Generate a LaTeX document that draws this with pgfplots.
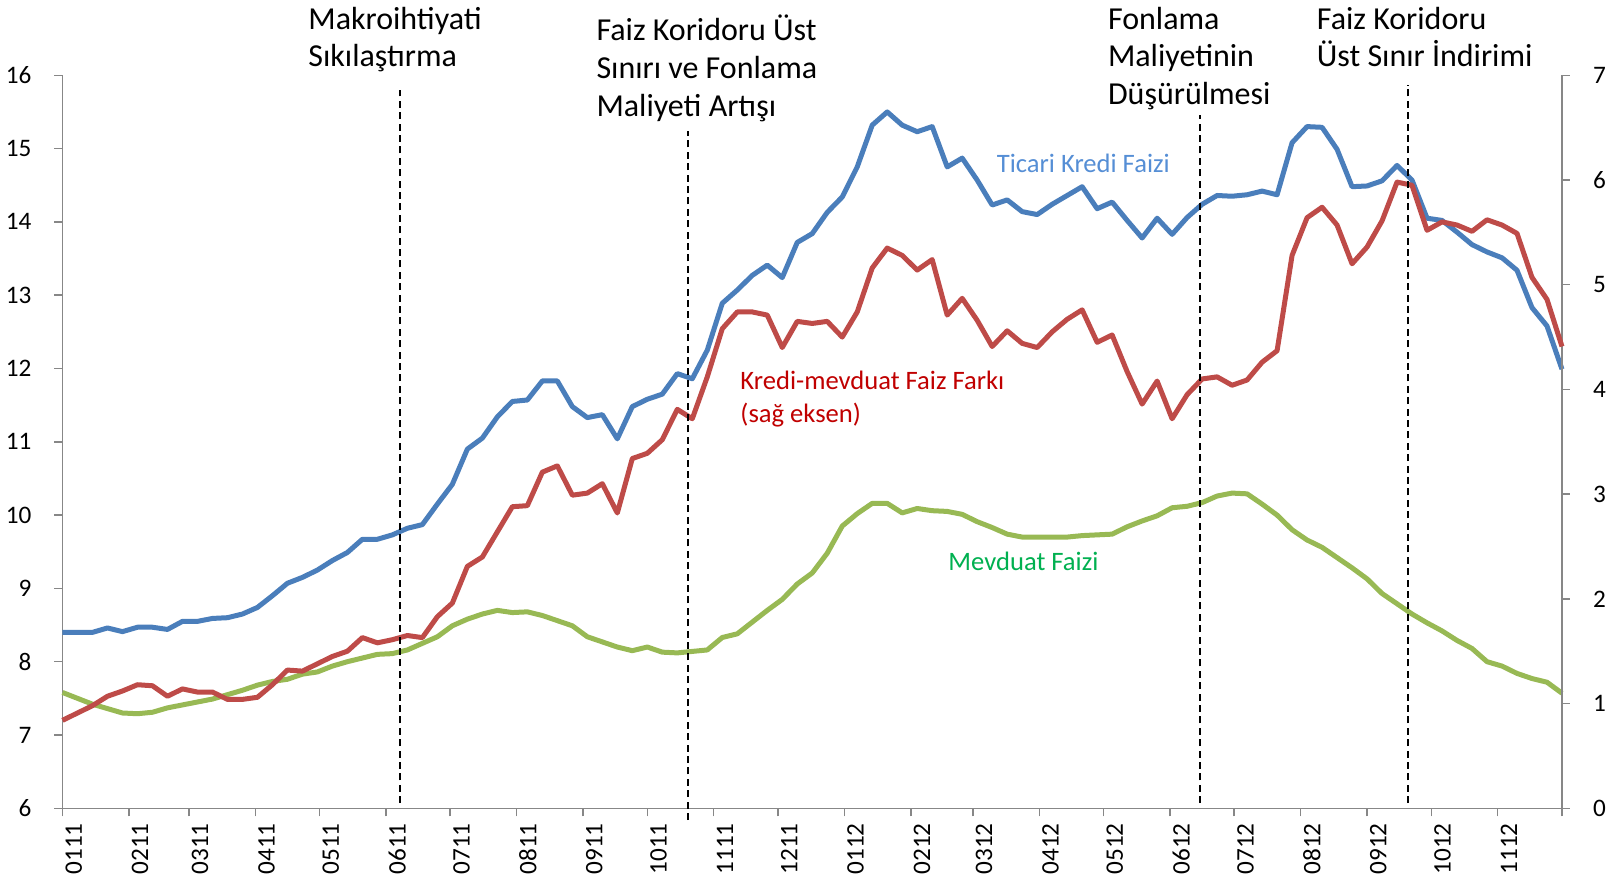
\documentclass[border=0pt]{standalone}
\usepackage{pgfplots}
\pgfplotsset{compat=1.18}
\usepackage{pgfplotstable}
\usepackage{fontspec}
\setmainfont{Carlito}
\definecolor{cblue}{HTML}{4A7EBB}
\definecolor{cred}{HTML}{BE4B48}
\definecolor{cgreen}{HTML}{98B954}
\definecolor{tblue}{HTML}{558ED5}
\definecolor{tred}{HTML}{C00000}
\definecolor{tgreen}{HTML}{00B050}
\definecolor{axgray}{HTML}{878787}
\pgfplotstableread{
d b r g
0 8.40 0.84 7.58
7 8.40 0.91 7.50
14 8.40 0.98 7.42
21 8.46 1.07 7.36
28 8.41 1.12 7.30
35 8.47 1.18 7.29
42 8.47 1.17 7.31
49 8.44 1.07 7.37
56 8.55 1.14 7.41
63 8.55 1.11 7.45
70 8.59 1.11 7.49
77 8.60 1.04 7.55
84 8.65 1.04 7.61
91 8.74 1.06 7.68
98 8.90 1.18 7.73
105 9.07 1.32 7.76
112 9.15 1.31 7.83
119 9.25 1.38 7.86
126 9.38 1.45 7.94
133 9.49 1.50 8.00
140 9.67 1.63 8.05
147 9.67 1.58 8.10
154 9.73 1.61 8.11
161 9.82 1.65 8.16
168 9.87 1.63 8.25
175 10.15 1.83 8.34
182 10.42 1.96 8.49
189 10.90 2.31 8.58
196 11.05 2.40 8.65
203 11.34 2.64 8.70
210 11.55 2.88 8.67
217 11.57 2.89 8.68
224 11.83 3.21 8.63
231 11.83 3.27 8.56
238 11.48 2.99 8.49
245 11.33 3.01 8.34
252 11.37 3.10 8.27
259 11.04 2.82 8.20
266 11.48 3.34 8.15
273 11.58 3.39 8.20
280 11.65 3.52 8.13
287 11.93 3.81 8.12
294 11.86 3.72 8.14
301 12.25 4.12 8.16
308 12.89 4.58 8.33
315 13.07 4.74 8.38
322 13.27 4.74 8.54
329 13.41 4.71 8.70
336 13.24 4.40 8.85
343 13.72 4.65 9.06
350 13.84 4.63 9.21
357 14.13 4.65 9.48
364 14.34 4.50 9.85
371 14.75 4.74 10.02
378 15.32 5.16 10.16
385 15.50 5.35 10.16
392 15.32 5.28 10.03
399 15.23 5.14 10.09
406 15.30 5.24 10.06
413 14.75 4.71 10.05
420 14.87 4.87 10.01
427 14.57 4.66 9.91
434 14.23 4.41 9.83
441 14.30 4.56 9.74
448 14.14 4.44 9.70
455 14.10 4.40 9.70
462 14.24 4.55 9.70
469 14.36 4.67 9.70
476 14.48 4.76 9.72
483 14.18 4.45 9.73
490 14.27 4.52 9.74
497 14.02 4.17 9.84
504 13.78 3.86 9.92
511 14.05 4.08 9.99
518 13.83 3.72 10.10
525 14.06 3.95 10.12
532 14.24 4.10 10.17
539 14.36 4.12 10.26
546 14.35 4.04 10.30
553 14.37 4.09 10.29
560 14.42 4.26 10.15
567 14.37 4.37 10.00
574 15.08 5.28 9.80
581 15.30 5.64 9.66
588 15.29 5.74 9.56
595 14.99 5.57 9.42
602 14.48 5.20 9.28
609 14.49 5.36 9.13
616 14.56 5.61 8.93
623 14.77 5.98 8.79
630 14.57 5.95 8.65
637 14.05 5.52 8.53
644 14.02 5.60 8.42
651 13.86 5.57 8.29
658 13.69 5.51 8.18
665 13.59 5.62 8.00
672 13.51 5.57 7.94
679 13.34 5.49 7.84
686 12.83 5.07 7.77
693 12.58 4.86 7.72
700 11.99 4.41 7.57
}\data
\begin{document}
\begin{tikzpicture}
\pgfplotsset{common/.style={
  width=749.75pt, height=366.5pt, scale only axis,
  xmin=0, xmax=700, clip=false,
  tick align=outside, major tick length=4pt,
  tick style={draw=axgray, line width=0.75pt},
  axis line style={draw=axgray, line width=0.75pt, -},
  tick label style={font=\fontsize{12.6}{14}\selectfont},
  /pgf/number format/assume math mode=true,
  every axis plot/.append style={line width=2.5pt, line join=round, mark=none}
}}
\begin{axis}[common, name=main,
  axis x line*=bottom, axis y line*=left,
  ymin=6, ymax=16, ytick={6,7,...,16},
  xtick={0,31,59,90,120,151,181,212,243,273,304,334,365,396,425,456,486,517,547,578,609,639,670,700},
  xticklabels={0111,0211,0311,0411,0511,0611,0711,0811,0911,1011,1111,1211,0112,0212,0312,0412,0512,0612,0712,0812,0912,1012,1112,{}},
  xticklabel style={rotate=90, anchor=east, yshift=-5.6pt},
  yticklabel style={xshift=-8pt}]
\addplot[cblue] table[x=d,y=b]{\data};
\addplot[cgreen] table[x=d,y=g]{\data};
\end{axis}
\begin{axis}[common,
  axis x line=none, axis y line*=right,
  ymin=0, ymax=7, ytick={0,1,...,7},
  yticklabel style={xshift=8pt}]
\addplot[cred] table[x=d,y=r]{\data};
\addplot[black, line width=1pt, dash pattern=on 3.5pt off 2.2pt, line join=miter] coordinates {(157.6,0.049) (157.6,6.86)};
\addplot[black, line width=1pt, dash pattern=on 3.5pt off 2.2pt, line join=miter] coordinates {(291.9,-0.112) (291.9,6.468)};
\addplot[black, line width=1pt, dash pattern=on 3.5pt off 2.2pt, line join=miter] coordinates {(531.0,0.049) (531.0,6.622)};
\addplot[black, line width=1pt, dash pattern=on 3.5pt off 2.2pt, line join=miter] coordinates {(628.0,0.049) (628.0,6.909)};
\begin{scope}[every node/.style={anchor=base west, inner sep=0pt, font=\fontsize{16}{18}\selectfont}]
\node at (axis cs:114.6,7.441) {Makroihtiyati};
\node at (axis cs:114.6,7.083) {Sıkılaştırma};
\node at (axis cs:249.1,7.331) {Faiz Koridoru Üst};
\node at (axis cs:249.1,6.970) {Sınırı ve Fonlama};
\node at (axis cs:249.1,6.609) {Maliyeti Artışı};
\node at (axis cs:487.9,7.441) {Fonlama};
\node at (axis cs:487.9,7.080) {Maliyetinin};
\node at (axis cs:487.9,6.719) {Düşürülmesi};
\node at (axis cs:585.4,7.441) {Faiz Koridoru};
\node at (axis cs:585.4,7.083) {Üst Sınır İndirimi};
\end{scope}
\begin{scope}[every node/.style={anchor=base west, inner sep=0pt, font=\fontsize{13.3}{15}\selectfont}]
\node[text=tblue] at (axis cs:436.0,6.067) {Ticari Kredi Faizi};
\node[text=tred] at (axis cs:316.3,4.004) {Kredi-mevduat Faiz Farkı};
\node[text=tred] at (axis cs:316.3,3.689) {(sağ eksen)};
\node[text=tgreen] at (axis cs:413.4,2.271) {Mevduat Faizi};
\end{scope}
\end{axis}
\pgfresetboundingbox
\path[use as bounding box] ([shift={(-31.25pt,-38.85pt)}]main.south west) rectangle ([shift={(775.75pt,404.15pt)}]main.south west);
\end{tikzpicture}
\end{document}
